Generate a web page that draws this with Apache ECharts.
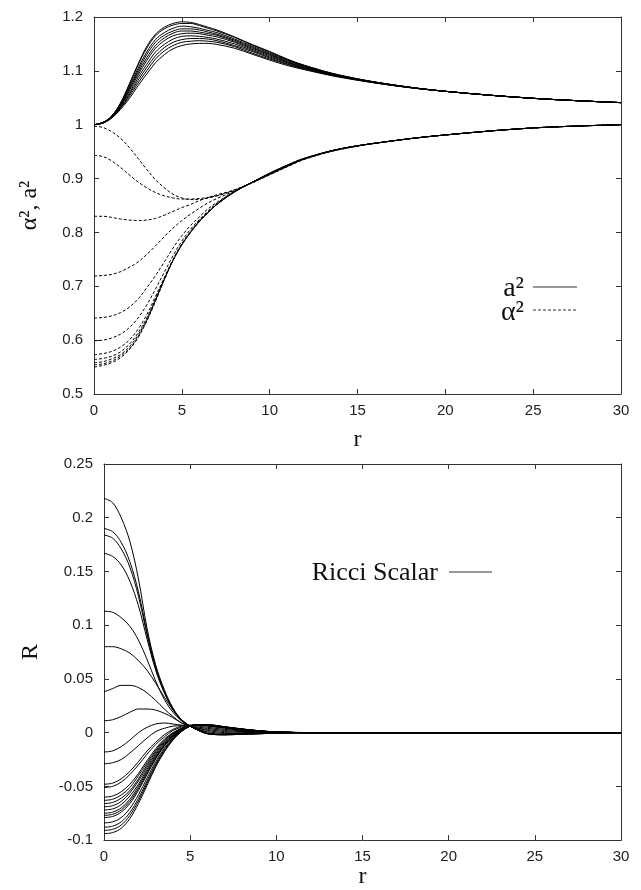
<!DOCTYPE html>
<html>
<head>
<meta charset="utf-8">
<script src="https://cdn.jsdelivr.net/npm/echarts@6/dist/echarts.min.js"></script>
<style>
html,body{margin:0;padding:0;background:#fff;}
#chart{width:641px;height:890px;}
</style>
</head>
<body>
<div id="chart"></div>
<script>
// ---------- Top panel: metric functions ----------
var rTop = [0,0.5,1,1.5,2,2.5,3,3.5,4,4.5,5,5.5,6,6.5,7,8,9,10,11,12,14,17,20,25,30];
var xTicks = [0,5,10,15,20,25,30];
var yTicksTop = [0.5,0.6,0.7,0.8,0.9,1.0,1.1,1.2];

// a^2 curves (solid)
var a2_0 = [1.000,1.004,1.016,1.040,1.075,1.112,1.145,1.168,1.181,1.188,1.191,1.190,1.186,1.181,1.176,1.163,1.149,1.136,1.122,1.110,1.092,1.074,1.062,1.049,1.041];
var a2_1 = [1.000,1.004,1.016,1.039,1.073,1.110,1.142,1.165,1.178,1.185,1.188,1.188,1.184,1.179,1.174,1.162,1.148,1.135,1.121,1.110,1.092,1.074,1.062,1.049,1.041];
var a2_2 = [1.000,1.004,1.015,1.038,1.070,1.104,1.135,1.158,1.171,1.179,1.183,1.182,1.179,1.175,1.171,1.159,1.146,1.133,1.120,1.109,1.091,1.074,1.062,1.049,1.041];
var a2_3 = [1.000,1.004,1.015,1.037,1.067,1.100,1.130,1.153,1.166,1.174,1.178,1.178,1.176,1.172,1.168,1.157,1.144,1.131,1.119,1.108,1.091,1.074,1.062,1.049,1.041];
var a2_4 = [1.000,1.004,1.014,1.035,1.065,1.096,1.124,1.147,1.161,1.170,1.174,1.174,1.172,1.169,1.166,1.155,1.142,1.130,1.117,1.107,1.090,1.074,1.062,1.049,1.041];
var a2_5 = [1.000,1.004,1.014,1.034,1.062,1.092,1.119,1.142,1.156,1.165,1.169,1.170,1.169,1.166,1.163,1.153,1.140,1.128,1.116,1.106,1.090,1.074,1.062,1.049,1.041];
var a2_6 = [1.000,1.003,1.014,1.033,1.058,1.087,1.112,1.135,1.149,1.159,1.164,1.165,1.164,1.162,1.159,1.150,1.138,1.126,1.115,1.105,1.090,1.073,1.062,1.049,1.041];
var a2_7 = [1.000,1.003,1.013,1.031,1.055,1.082,1.106,1.128,1.143,1.153,1.158,1.160,1.160,1.159,1.156,1.147,1.136,1.124,1.113,1.104,1.089,1.073,1.062,1.049,1.041];
var a2_8 = [1.000,1.003,1.013,1.030,1.052,1.077,1.100,1.122,1.137,1.147,1.153,1.155,1.156,1.155,1.153,1.145,1.133,1.122,1.112,1.103,1.089,1.073,1.062,1.049,1.041];
var a2_9 = [1.000,1.003,1.012,1.028,1.048,1.072,1.094,1.115,1.130,1.141,1.147,1.150,1.151,1.151,1.149,1.142,1.131,1.120,1.110,1.102,1.088,1.073,1.062,1.049,1.041];

// alpha^2 curves (dashed)
var al2_0 = [0.997,0.995,0.987,0.975,0.958,0.938,0.917,0.898,0.883,0.871,0.864,0.861,0.861,0.864,0.868,0.879,0.892,0.907,0.922,0.936,0.954,0.970,0.981,0.994,1.000];
var al2_1 = [0.943,0.941,0.933,0.921,0.907,0.894,0.883,0.874,0.868,0.864,0.862,0.862,0.863,0.865,0.868,0.878,0.892,0.907,0.922,0.936,0.954,0.970,0.981,0.994,1.000];
var al2_2 = [0.830,0.830,0.828,0.825,0.823,0.822,0.823,0.826,0.832,0.839,0.846,0.852,0.859,0.865,0.870,0.879,0.893,0.908,0.923,0.937,0.955,0.970,0.981,0.994,1.000];
var al2_3 = [0.719,0.720,0.722,0.727,0.735,0.745,0.759,0.775,0.792,0.808,0.822,0.834,0.845,0.855,0.863,0.877,0.893,0.908,0.923,0.937,0.955,0.970,0.981,0.994,1.000];
var al2_4 = [0.641,0.642,0.645,0.651,0.661,0.676,0.697,0.720,0.745,0.771,0.794,0.813,0.829,0.844,0.856,0.876,0.893,0.909,0.924,0.937,0.955,0.970,0.981,0.994,1.000];
var al2_5 = [0.599,0.600,0.604,0.611,0.623,0.641,0.665,0.695,0.726,0.757,0.784,0.806,0.824,0.840,0.854,0.876,0.893,0.909,0.924,0.937,0.955,0.970,0.981,0.994,1.000];
var al2_6 = [0.573,0.575,0.579,0.587,0.600,0.620,0.647,0.681,0.716,0.750,0.779,0.802,0.822,0.838,0.853,0.876,0.893,0.909,0.924,0.937,0.955,0.970,0.981,0.994,1.000];
var al2_7 = [0.564,0.566,0.570,0.578,0.592,0.613,0.641,0.677,0.714,0.749,0.778,0.801,0.821,0.838,0.853,0.876,0.893,0.909,0.924,0.937,0.955,0.970,0.981,0.994,1.000];
var al2_8 = [0.558,0.560,0.565,0.573,0.587,0.609,0.638,0.675,0.713,0.748,0.777,0.801,0.821,0.837,0.852,0.875,0.893,0.910,0.925,0.938,0.955,0.970,0.981,0.994,1.000];
var al2_9 = [0.554,0.556,0.561,0.570,0.584,0.606,0.636,0.673,0.712,0.748,0.777,0.800,0.820,0.837,0.852,0.875,0.893,0.910,0.925,0.938,0.955,0.970,0.981,0.994,1.000];
var al2_10 = [0.550,0.553,0.558,0.567,0.582,0.604,0.635,0.672,0.712,0.748,0.777,0.800,0.820,0.837,0.852,0.875,0.893,0.910,0.925,0.938,0.955,0.970,0.981,0.994,1.000];

// ---------- Bottom panel: Ricci scalar ----------
var rBot = [0,0.5,1,1.5,2,2.5,3,3.5,4,4.5,5,5.5,6,7,8,9,10,12,15,30];
var yTicksBot = [-0.1,-0.05,0,0.05,0.1,0.15,0.2,0.25];

var R_0  = [0.218,0.214,0.200,0.178,0.143,0.097,0.063,0.040,0.023,0.012,0.006,0.002,-0.001,-0.002,-0.0015,-0.001,-0.0005,0,0,0];
var R_1  = [0.190,0.187,0.177,0.159,0.131,0.093,0.061,0.038,0.022,0.012,0.006,0.002,-0.001,-0.002,-0.0015,-0.001,-0.0005,0,0,0];
var R_2  = [0.184,0.181,0.171,0.154,0.127,0.091,0.060,0.038,0.022,0.012,0.006,0.002,-0.001,-0.002,-0.0015,-0.001,-0.0005,0,0,0];
var R_3  = [0.167,0.164,0.156,0.141,0.118,0.087,0.058,0.037,0.022,0.012,0.006,0.002,-0.0008,-0.0018,-0.0013,-0.001,-0.0005,0,0,0];
var R_4  = [0.113,0.112,0.107,0.099,0.086,0.068,0.048,0.031,0.019,0.011,0.006,0.003,0.000,-0.0015,-0.001,-0.0008,-0.0004,0,0,0];
var R_5  = [0.080,0.080,0.078,0.074,0.067,0.058,0.046,0.033,0.021,0.011,0.006,0.003,0.001,-0.0008,-0.0008,-0.0005,-0.0002,0,0,0];
var R_6  = [0.038,0.041,0.044,0.044,0.042,0.037,0.030,0.022,0.015,0.009,0.006,0.004,0.002,0.000,-0.0004,-0.0003,-0.0001,0,0,0];
var R_7  = [0.011,0.012,0.015,0.019,0.022,0.022,0.021,0.018,0.014,0.009,0.006,0.004,0.003,0.001,0.0003,0,0,0,0,0];
var R_8  = [-0.018,-0.017,-0.013,-0.007,0.000,0.005,0.008,0.009,0.008,0.007,0.006,0.005,0.004,0.002,0.001,0.0003,0,0,0,0];
var R_9  = [-0.029,-0.028,-0.025,-0.019,-0.012,-0.005,0.001,0.004,0.006,0.0065,0.0065,0.006,0.005,0.003,0.0015,0.0007,0.0002,0,0,0];
var R_10 = [-0.048,-0.047,-0.043,-0.036,-0.027,-0.017,-0.009,-0.002,0.003,0.006,0.007,0.007,0.006,0.004,0.002,0.001,0.0003,0,0,0];
var R_11 = [-0.051,-0.050,-0.046,-0.039,-0.030,-0.020,-0.011,-0.004,0.002,0.005,0.0068,0.007,0.0065,0.0045,0.0025,0.0012,0.0004,0,0,0];
var R_12 = [-0.060,-0.059,-0.055,-0.048,-0.038,-0.026,-0.015,-0.006,0.000,0.004,0.0065,0.007,0.0068,0.0048,0.0028,0.0014,0.0005,0,0,0];
var R_13 = [-0.063,-0.062,-0.058,-0.051,-0.040,-0.028,-0.0165,-0.007,-0.0006,0.0037,0.0065,0.007,0.0069,0.0049,0.0029,0.0014,0.0005,0,0,0];
var R_14 = [-0.066,-0.065,-0.061,-0.054,-0.043,-0.030,-0.018,-0.008,-0.0012,0.0035,0.0064,0.0071,0.0069,0.0049,0.0029,0.0015,0.0005,0,0,0];
var R_15 = [-0.069,-0.068,-0.064,-0.056,-0.045,-0.032,-0.0195,-0.0092,-0.0019,0.0032,0.0064,0.0071,0.007,0.005,0.003,0.0015,0.0006,0,0,0];
var R_16 = [-0.072,-0.071,-0.067,-0.059,-0.048,-0.034,-0.021,-0.0102,-0.0025,0.0029,0.0063,0.0072,0.007,0.005,0.003,0.0015,0.0006,0,0,0];
var R_17 = [-0.075,-0.074,-0.070,-0.062,-0.050,-0.036,-0.0225,-0.0113,-0.0031,0.0027,0.0063,0.0072,0.0071,0.0051,0.0031,0.0016,0.0006,0,0,0];
var R_18 = [-0.077,-0.076,-0.072,-0.064,-0.052,-0.0375,-0.0235,-0.012,-0.0035,0.0025,0.0063,0.0073,0.0072,0.0052,0.0032,0.0016,0.0006,0,0,0];
var R_19 = [-0.079,-0.078,-0.074,-0.066,-0.0537,-0.0389,-0.0245,-0.0127,-0.0039,0.0023,0.0062,0.0073,0.0072,0.0052,0.0032,0.0016,0.0006,0,0,0];
var R_20 = [-0.084,-0.083,-0.079,-0.0706,-0.0578,-0.0422,-0.027,-0.0145,-0.0049,0.0019,0.0061,0.0074,0.0073,0.0053,0.0033,0.0017,0.0006,0,0,0];
var R_21 = [-0.088,-0.087,-0.083,-0.0744,-0.0611,-0.045,-0.029,-0.0159,-0.0058,0.0015,0.0061,0.0074,0.0074,0.0054,0.0034,0.0017,0.0007,0,0,0];
var R_22 = [-0.091,-0.090,-0.086,-0.0772,-0.0635,-0.047,-0.0305,-0.0169,-0.0064,0.0013,0.006,0.0075,0.0074,0.0054,0.0034,0.0018,0.0007,0,0,0];
var R_23 = [-0.094,-0.093,-0.089,-0.080,-0.066,-0.049,-0.032,-0.018,-0.007,0.001,0.006,0.0075,0.0075,0.0055,0.0035,0.0018,0.0007,0.0001,0,0];

var a2Curves = [a2_0,a2_1,a2_2,a2_3,a2_4,a2_5,a2_6,a2_7,a2_8,a2_9];
var al2Curves = [al2_0,al2_1,al2_2,al2_3,al2_4,al2_5,al2_6,al2_7,al2_8,al2_9,al2_10];
var RCurves = [R_0,R_1,R_2,R_3,R_4,R_5,R_6,R_7,R_8,R_9,R_10,R_11,R_12,R_13,R_14,R_15,R_16,R_17,R_18,R_19,R_20,R_21,R_22,R_23];

// ---------- build chart ----------
var AX = '#333';
var TICKFONT = {fontFamily:'Liberation Sans, Arial, sans-serif', fontSize:15, color:'#222'};
var SERIF = 'Liberation Serif, Times New Roman, serif';

function xAx(grid, pos, withLabels, nameGap){
  var o = {
    gridIndex: grid, type:'value', min:0, max:30, interval:5, position:pos,
    axisLine:{show:true, onZero:false, lineStyle:{color:AX, width:1}},
    axisTick:{show:true, inside:true, length:5, lineStyle:{color:AX, width:1}},
    axisLabel:Object.assign({show:withLabels, margin:9}, TICKFONT),
    splitLine:{show:false}
  };
  if (withLabels) {
    o.name = 'r'; o.nameLocation = 'middle'; o.nameGap = nameGap;
    o.nameTextStyle = {fontFamily:SERIF, fontSize:24, color:'#111'};
  }
  return o;
}
function yAx(grid, pos, min, max, interval, withLabels, name, nameGap){
  var o = {
    gridIndex: grid, type:'value', min:min, max:max, interval:interval, position:pos,
    axisLine:{show:true, onZero:false, lineStyle:{color:AX, width:1}},
    axisTick:{show:true, inside:true, length:5, lineStyle:{color:AX, width:1}},
    axisLabel:Object.assign({show:withLabels, margin:11}, TICKFONT),
    splitLine:{show:false}
  };
  if (withLabels) {
    o.name = name; o.nameLocation = 'middle'; o.nameGap = nameGap; o.nameRotate = 90;
    o.nameTextStyle = {fontFamily:SERIF, fontSize:24, color:'#111'};
  }
  return o;
}

var series = [];
function pairs(xs, ys){ return xs.map(function(x,i){ return [x, ys[i]]; }); }
a2Curves.forEach(function(c){
  series.push({type:'line', name:'a²', xAxisIndex:0, yAxisIndex:0, data:pairs(rTop,c), showSymbol:false, smooth:0.35,
    lineStyle:{color:'#000', width:1}, silent:true, animation:false});
});
al2Curves.forEach(function(c){
  series.push({type:'line', name:'α²', xAxisIndex:0, yAxisIndex:0, data:pairs(rTop,c), showSymbol:false, smooth:0.35,
    lineStyle:{color:'#000', width:1, type:[3,2]}, silent:true, animation:false});
});
RCurves.forEach(function(c){
  series.push({type:'line', name:'Ricci Scalar', xAxisIndex:2, yAxisIndex:2, data:pairs(rBot,c), showSymbol:false, smooth:0.35,
    lineStyle:{color:'#000', width:1}, silent:true, animation:false});
});

var chart = echarts.init(document.getElementById('chart'), null, {renderer:'canvas'});
chart.setOption({
  backgroundColor:'#fff',
  animation:false,
  grid:[
    {left:94, top:17, width:527, height:377},
    {left:104, top:464, width:517, height:378}
  ],
  xAxis:[
    xAx(0,'bottom',true,34),
    xAx(0,'top',false),
    xAx(1,'bottom',true,19),
    xAx(1,'top',false)
  ],
  yAxis:[
    yAx(0,'left',0.5,1.2,0.1,true,'α², a²',52),
    yAx(0,'right',0.5,1.2,0.1,false),
    yAx(1,'left',-0.1,0.25,0.05,true,'R',61),
    yAx(1,'right',-0.1,0.25,0.05,false)
  ],
  series: series,
  graphic:[
    {type:'text', x:524, y:289, style:{text:'a²', font:'28px '+SERIF, fill:'#111', align:'right', verticalAlign:'middle'}},
    {type:'line', shape:{x1:533, y1:287, x2:577, y2:287}, style:{stroke:'#333', lineWidth:1}},
    {type:'text', x:524, y:313, style:{text:'α²', font:'28px '+SERIF, fill:'#111', align:'right', verticalAlign:'middle'}},
    {type:'line', shape:{x1:533, y1:310, x2:577, y2:310}, style:{stroke:'#333', lineWidth:1, lineDash:[3,2]}},
    {type:'text', x:438, y:573, style:{text:'Ricci Scalar', font:'26px '+SERIF, fill:'#111', align:'right', verticalAlign:'middle'}},
    {type:'line', shape:{x1:449, y1:572, x2:492, y2:572}, style:{stroke:'#333', lineWidth:1}}
  ]
});
</script>
</body>
</html>
